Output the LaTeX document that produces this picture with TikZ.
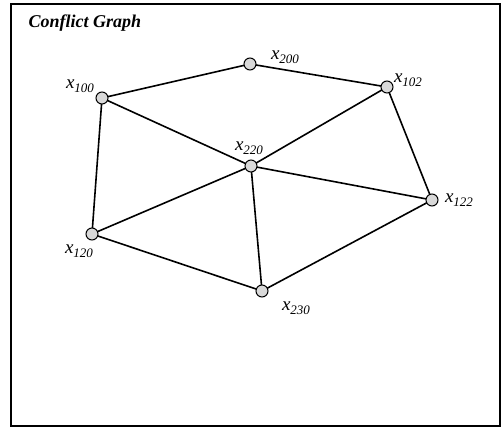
\documentclass[tikz,border=0pt]{standalone}
\usepackage{fontspec}
\setmainfont{Liberation Serif}
\usetikzlibrary{positioning}
\newcommand{\xsub}[1]{x\raisebox{-4pt}{\fontsize{13}{13}\selectfont #1}}

\begin{document}
\begin{tikzpicture}[
  x=1pt, y=-1pt,
  vertex/.style={circle, draw, fill=black!15, line width=1pt, minimum size=12pt, inner sep=0pt},
  vlabel/.style={font=\fontsize{19}{19}\selectfont\itshape, inner sep=0pt},
  edge/.style={line width=1.6pt}
]
\useasboundingbox (0,0) rectangle (501,428);
\draw[line width=1.4pt] (11,4) rectangle (500,426);
\node[font=\fontsize{18}{18}\selectfont\bfseries\itshape, anchor=base west] (title) at (25,28) {Conflict Graph};

% edges first, vertices on top
\path (102,98) coordinate (c100) (250,64) coordinate (c200) (387,87) coordinate (c102)
      (251,166) coordinate (c220) (92,234) coordinate (c120) (262,291) coordinate (c230)
      (432,200) coordinate (c122);
\draw[edge] (c100) -- (c200);
\draw[edge] (c200) -- (c102);
\draw[edge] (c100) -- (c220);
\draw[edge] (c100) -- (c120);
\draw[edge] (c102) -- (c220);
\draw[edge] (c102) -- (c122);
\draw[edge] (c220) -- (c122);
\draw[edge] (c220) -- (c120);
\draw[edge] (c220) -- (c230);
\draw[edge] (c120) -- (c230);
\draw[edge] (c230) -- (c122);

% vertices
\node[vertex] (v100) at (c100) {};
\node[vertex] (v200) at (c200) {};
\node[vertex] (v102) at (c102) {};
\node[vertex] (v220) at (c220) {};
\node[vertex] (v120) at (c120) {};
\node[vertex] (v230) at (c230) {};
\node[vertex] (v122) at (c122) {};

% labels
\node[vlabel] (l100) at (80,86) {\xsub{100}};
\node[vlabel] (l200) at (285,57) {\xsub{200}};
\node[vlabel] (l102) at (408,80) {\xsub{102}};
\node[vlabel] (l220) at (249,148) {\xsub{220}};
\node[vlabel] (l120) at (79,251) {\xsub{120}};
\node[vlabel] (l230) at (296,308) {\xsub{230}};
\node[vlabel] (l122) at (459,200) {\xsub{122}};
\end{tikzpicture}
\end{document}
